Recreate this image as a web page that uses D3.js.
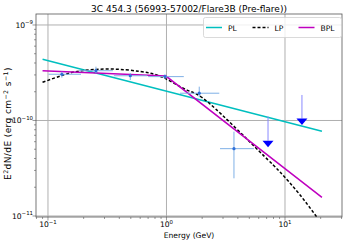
<!DOCTYPE html>
<html>
<head>
<meta charset="utf-8">
<script src="https://cdn.jsdelivr.net/npm/d3@7"></script>
<style>
  body { margin: 0; background: #fff; }
  text { font-family: "DejaVu Sans", sans-serif; }
</style>
</head>
<body>
<div id="chart"></div>
<script>
// SED points (energy in GeV, flux in erg cm^-2 s^-1)
const pointEnergy = [0.131, 0.254, 0.495, 0.971, 1.89, 3.71];
const pointElo = [0.101, 0.183, 0.36, 0.70, 1.30, 2.83];
const pointEhi = [0.19, 0.353, 0.69, 1.40, 2.79, 5.47];
const pointFlux = [3.05e-10, 3.32e-10, 2.94e-10, 2.88e-10, 1.93e-10, 5.07e-11];
const pointFluxHi = [3.24e-10, 3.66e-10, 3.14e-10, 3.05e-10, 2.26e-10, 7.64e-11];
const pointFluxLo = [2.81e-10, 3.12e-10, 2.65e-10, 2.72e-10, 1.75e-10, 2.48e-11];

// upper limits
const ulEnergy = [7.19, 13.9];
const ulFlux = [1.10e-10, 1.85e-10];
const ulArrowTo = [6.14e-11, 1.05e-10];

// model curves
const plEnergy = [0.09, 20.5];
const plFlux = [4.37e-10, 7.73e-11];
const bplEnergy = [0.09, 0.99, 20.5];
const bplFlux = [3.32e-10, 2.92e-10, 1.57e-11];
const lpEnergy = [0.09, 0.134, 0.188, 0.334, 0.598, 0.934, 1.49, 2.33, 6.15, 9.08, 13.4, 20.5];
const lpFlux = [2.51e-10, 2.99e-10, 3.30e-10, 3.46e-10, 3.26e-10, 2.82e-10, 2.08e-10, 1.49e-10, 4.68e-11, 2.89e-11, 1.66e-11, 8.2e-12];

const xTicks = [0.1, 1, 10];
const xTickExp = ['\u22121', '0', '1'];
const yTicks = [1e-9, 1e-10, 1e-11];
const yTickExp = ['\u22129', '\u221210', '\u221211'];

const legendNames = ['PL', 'LP', 'BPL'];

const width = 346, height = 245;
const mLeft = 36, mRight = 342, mTop = 14, mBottom = 217;

const svg = d3.select('#chart')
  .append('svg')
  .attr('width', width)
  .attr('height', height);

const x = d3.scaleLog()
  .domain([Math.pow(10, -1.101), Math.pow(10, 1.481)])
  .range([mLeft, mRight]);
const y = d3.scaleLog()
  .domain([Math.pow(10, -11.0105), Math.pow(10, -8.885)])
  .range([mBottom, mTop]);

svg.append('defs').append('clipPath')
  .attr('id', 'plotClip')
  .append('rect')
  .attr('x', mLeft).attr('y', mTop)
  .attr('width', mRight - mLeft).attr('height', mBottom - mTop);

// grid lines
svg.append('g').selectAll('line')
  .data(xTicks)
  .join('line')
  .attr('x1', d => x(d)).attr('x2', d => x(d))
  .attr('y1', mTop).attr('y2', mBottom)
  .style('stroke', '#b0b0b0')
  .style('stroke-width', 1);
svg.append('g').selectAll('line')
  .data(yTicks)
  .join('line')
  .attr('x1', mLeft).attr('x2', mRight)
  .attr('y1', d => y(d)).attr('y2', d => y(d))
  .style('stroke', '#b0b0b0')
  .style('stroke-width', 1);

// minor ticks
const xMinor = [];
[0.01, 0.1, 1, 10].forEach(dec => { for (let k = 1; k <= 9; k++) xMinor.push(dec * k); });
const yMinor = [];
[1e-11, 1e-10, 1e-9].forEach(dec => { for (let k = 2; k <= 9; k++) yMinor.push(dec * k); });

const plot = svg.append('g').attr('clip-path', 'url(#plotClip)');

// model curves
const line = d3.line().x(d => x(d[0])).y(d => y(d[1]));
const smooth = d3.line().x(d => x(d[0])).y(d => y(d[1])).curve(d3.curveNatural);

plot.append('path')
  .datum(d3.zip(plEnergy, plFlux))
  .attr('d', line)
  .style('fill', 'none')
  .style('stroke', '#00bfbf')
  .style('stroke-width', 1.5);

plot.append('path')
  .datum(d3.zip(lpEnergy, lpFlux))
  .attr('d', smooth)
  .style('fill', 'none')
  .style('stroke', '#000')
  .style('stroke-width', 1.5)
  .style('stroke-dasharray', '3,2');

plot.append('path')
  .datum(d3.zip(bplEnergy, bplFlux))
  .attr('d', line)
  .style('fill', 'none')
  .style('stroke', '#bf00bf')
  .style('stroke-width', 1.5);

// data points with error bars
const pts = pointEnergy.map((e, i) => ({
  e: e, lo: pointElo[i], hi: pointEhi[i],
  f: pointFlux[i], fhi: pointFluxHi[i], flo: pointFluxLo[i]
}));
const pg = plot.append('g');
pg.selectAll('.xerr').data(pts).join('line')
  .attr('class', 'xerr')
  .attr('x1', d => x(d.lo)).attr('x2', d => x(d.hi))
  .attr('y1', d => y(d.f)).attr('y2', d => y(d.f))
  .style('stroke', '#7fb0e6').style('stroke-width', 1);
pg.selectAll('.yerr').data(pts).join('line')
  .attr('class', 'yerr')
  .attr('x1', d => x(d.e)).attr('x2', d => x(d.e))
  .attr('y1', d => y(d.flo)).attr('y2', d => y(d.fhi))
  .style('stroke', '#7fb0e6').style('stroke-width', 1);
pg.selectAll('circle').data(pts).join('circle')
  .attr('cx', d => x(d.e)).attr('cy', d => y(d.f))
  .attr('r', 1.6)
  .style('fill', '#2f6fd8');

// upper limits
const uls = ulEnergy.map((e, i) => ({ e: e, f: ulFlux[i], to: ulArrowTo[i] }));
const ug = plot.append('g');
ug.selectAll('line').data(uls).join('line')
  .attr('x1', d => x(d.e)).attr('x2', d => x(d.e))
  .attr('y1', d => y(d.f)).attr('y2', d => y(d.to))
  .style('stroke', '#8a8aff').style('stroke-width', 1);
ug.selectAll('path').data(uls).join('path')
  .attr('d', d => {
    const cx = x(d.e), cy = y(d.to);
    return `M${cx - 5.5},${cy}L${cx + 5.5},${cy}L${cx},${cy + 6.5}Z`;
  })
  .style('fill', '#0000ff');

// frame
svg.append('rect')
  .attr('x', mLeft).attr('y', mTop)
  .attr('width', mRight - mLeft).attr('height', mBottom - mTop)
  .style('fill', 'none')
  .style('stroke', '#555')
  .style('stroke-width', 0.8);

// ticks
svg.append('g').selectAll('line')
  .data(xMinor.filter(d => x(d) >= mLeft && x(d) <= mRight))
  .join('line')
  .attr('x1', d => x(d)).attr('x2', d => x(d))
  .attr('y1', mBottom).attr('y2', d => mBottom + (xTicks.includes(d) ? 3.5 : 2))
  .style('stroke', '#555').style('stroke-width', 0.6);
svg.append('g').selectAll('line')
  .data(yMinor.concat(yTicks).filter(d => y(d) >= mTop && y(d) <= mBottom))
  .join('line')
  .attr('x1', d => mLeft - (yTicks.includes(d) ? 3.5 : 2)).attr('x2', mLeft)
  .attr('y1', d => y(d)).attr('y2', d => y(d))
  .style('stroke', '#555').style('stroke-width', 0.6);

// tick labels
const xl = svg.append('g').selectAll('text')
  .data(xTicks)
  .join('text')
  .attr('x', d => x(d))
  .attr('y', 227)
  .attr('text-anchor', 'middle')
  .style('font-size', '7.6px');
xl.append('tspan').text('10');
xl.append('tspan').attr('dy', -3.5).style('font-size', '5.4px').text((d, i) => xTickExp[i]);

const yl = svg.append('g').selectAll('text')
  .data(yTicks)
  .join('text')
  .attr('x', 33)
  .attr('y', d => y(d) + 3)
  .attr('text-anchor', 'end')
  .style('font-size', '7.6px');
yl.append('tspan').text('10');
yl.append('tspan').attr('dy', -3.5).style('font-size', '5.4px').text((d, i) => yTickExp[i]);

// axis labels and title
svg.append('text')
  .attr('x', (mLeft + mRight) / 2)
  .attr('y', 238)
  .attr('text-anchor', 'middle')
  .style('font-size', '7.6px')
  .text('Energy (GeV)');

const ylab = svg.append('text')
  .attr('transform', 'translate(11,123.5) rotate(-90)')
  .attr('text-anchor', 'middle')
  .style('font-size', '9px')
  .style('letter-spacing', '0.4px');
ylab.append('tspan').text('E');
ylab.append('tspan').attr('dy', -3.4).style('font-size', '6.3px').text('2');
ylab.append('tspan').attr('dy', 3.4).text('dN/dE (erg cm');
ylab.append('tspan').attr('dy', -3.4).style('font-size', '6.3px').text('\u22122');
ylab.append('tspan').attr('dy', 3.4).text(' s');
ylab.append('tspan').attr('dy', -3.4).style('font-size', '6.3px').text('\u22121');
ylab.append('tspan').attr('dy', 3.4).text(')');

svg.append('text')
  .attr('x', (mLeft + mRight) / 2)
  .attr('y', 12)
  .attr('text-anchor', 'middle')
  .style('font-size', '9px')
  .text('3C 454.3 (56993-57002/Flare3B (Pre-flare))');

// legend
const legend = svg.append('g');
legend.append('rect')
  .attr('x', 203.5).attr('y', 17.5)
  .attr('width', 138).attr('height', 20)
  .attr('rx', 2)
  .style('fill', 'rgba(255,255,255,0.8)')
  .style('stroke', '#d0d0d0')
  .style('stroke-width', 0.8);
const legendColor = ['#00bfbf', '#000', '#bf00bf'];
const legendX = [206, 252.5, 298.5];
legendNames.forEach((name, i) => {
  legend.append('line')
    .attr('x1', legendX[i]).attr('x2', legendX[i] + 16)
    .attr('y1', 27.5).attr('y2', 27.5)
    .style('stroke', legendColor[i])
    .style('stroke-width', 1.5)
    .style('stroke-dasharray', name === 'LP' ? '3,2' : null);
  legend.append('text')
    .attr('x', legendX[i] + 22)
    .attr('y', 30.5)
    .style('font-size', '7.6px')
    .text(name);
});
</script>
</body>
</html>
